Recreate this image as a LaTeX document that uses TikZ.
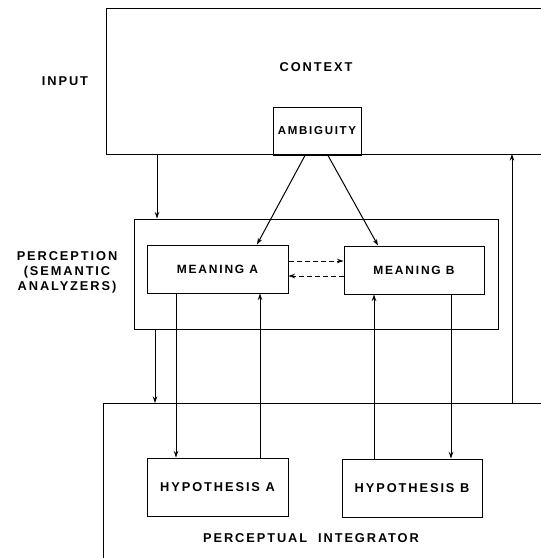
\documentclass[tikz,border=0pt]{standalone}
\usepackage{fontspec}
\setmainfont{Liberation Sans}
\newfontfamily\lblfont[LetterSpace=15]{Liberation Sans}
\usetikzlibrary{arrows.meta}
\begin{document}
\begin{tikzpicture}[x=1pt,y=-1pt,
  line width=1pt,
  lbl/.style={font=\lblfont\bfseries\fontsize{12.8}{15}\selectfont, inner sep=0pt},
  box/.style={draw, line width=1pt, inner sep=0pt, font=\lblfont\bfseries\fontsize{12}{14}\selectfont},
  arr/.style={-{Stealth[length=6.5pt,width=4.5pt]}},
  darr/.style={arr, dash pattern=on 5pt off 3pt}]
\useasboundingbox (0,0) rectangle (541,558);
% outer open boxes
\coordinate (ctxTR) at (541,8);
\coordinate (ctxTL) at (106,8);
\coordinate (ctxBL) at (106,154);
\coordinate (ctxBR) at (541,154);
\draw (ctxTR) -- (ctxTL) -- (ctxBL) -- (ctxBR);
\coordinate (intTR) at (541,403);
\coordinate (intTL) at (103,403);
\coordinate (intBL) at (103,558);
\draw (intTR) -- (intTL) -- (intBL);
% labels
\node[lbl] (input) at (65,81) {INPUT};
\node[lbl] (context) at (316,67) {CONTEXT};
\node[lbl, align=center] (perc) at (67,272) {PERCEPTION\\(SEMANTIC\\ANALYZERS)};
\node[lbl] (pint) at (311,538) {PERCEPTUAL\ \ INTEGRATOR};
% boxes
\node[box, minimum width=88pt, minimum height=48pt, font=\lblfont\bfseries\fontsize{11.5}{13}\selectfont] (amb) at (317,131) {AMBIGUITY};
\node[draw, minimum width=364pt, minimum height=110pt, inner sep=0pt] (pbox) at (316,274) {};
\node[box, minimum width=141pt, minimum height=48pt] (meanA) at (217.5,269) {MEANING\ A};
\node[box, minimum width=140pt, minimum height=48pt] (meanB) at (414,270) {MEANING\ B};
\node[box, minimum width=141pt, minimum height=58pt, font=\lblfont\bfseries\fontsize{12.8}{15}\selectfont] (hypA) at (217.5,487) {HYPOTHESIS\ A};
\node[box, minimum width=140pt, minimum height=58pt, font=\lblfont\bfseries\fontsize{12.8}{15}\selectfont] (hypB) at (412,488) {HYPOTHESIS\ B};
% x / y positions
\coordinate (x1) at (157,0);
\coordinate (x2) at (155,0);
\coordinate (x3) at (176,0);
\coordinate (x4) at (260,0);
\coordinate (x5) at (374,0);
\coordinate (x6) at (451,0);
\coordinate (x7) at (512,0);
\coordinate (y1) at (0,261);
\coordinate (y2) at (0,276);
% connectors
\draw[arr] (ctxBL -| x1) -- (pbox.north -| x1);
\draw[arr] ([xshift=-12pt]amb.south) -- ([xshift=39.5pt]meanA.north);
\draw[arr] ([xshift=11pt]amb.south) -- ([xshift=-36pt]meanB.north);
\draw[darr] (meanA.east |- y1) -- (meanB.west |- y1);
\draw[darr] (meanB.west |- y2) -- (meanA.east |- y2);
\draw[arr] (pbox.south -| x2) -- (intTL -| x2);
\draw[arr] (meanA.south -| x3) -- (hypA.north -| x3);
\draw[arr] (hypA.north -| x4) -- (meanA.south -| x4);
\draw[arr] (hypB.north -| x5) -- (meanB.south -| x5);
\draw[arr] (meanB.south -| x6) -- (hypB.north -| x6);
\draw[arr] (intTL -| x7) -- (ctxBL -| x7);
\end{tikzpicture}
\end{document}
